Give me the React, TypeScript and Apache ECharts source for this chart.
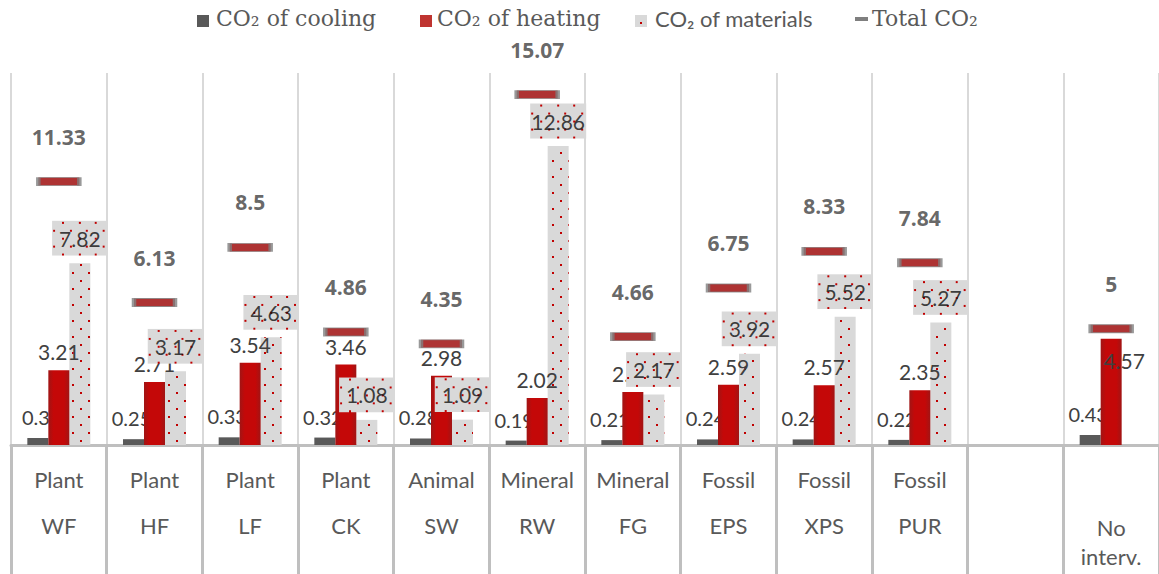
import React, { useEffect, useRef } from 'react';
import * as echarts from 'echarts';

// ---- data ----
const categories = ['WF', 'HF', 'LF', 'CK', 'SW', 'RW', 'FG', 'EPS', 'XPS', 'PUR', '', 'No interv.'];
const groups = ['Plant', 'Plant', 'Plant', 'Plant', 'Animal', 'Mineral', 'Mineral', 'Fossil', 'Fossil', 'Fossil', '', ''];
const cooling = [0.3, 0.25, 0.33, 0.32, 0.28, 0.19, 0.21, 0.24, 0.24, 0.22, null, 0.43];
const heating = [3.21, 2.71, 3.54, 3.46, 2.98, 2.02, 2.28, 2.59, 2.57, 2.35, null, 4.57];
const materials = [7.82, 3.17, 4.63, 1.08, 1.09, 12.86, 2.17, 3.92, 5.52, 5.27, null, null];
const total = [11.33, 6.13, 8.5, 4.86, 4.35, 15.07, 4.66, 6.75, 8.33, 7.84, null, 5];
const legendNames = ['CO₂ of cooling', 'CO₂ of heating', 'CO₂ of materials', 'Total CO₂'];

function makeDotsImage(): string {
  const c = document.createElement('canvas');
  c.width = 56;
  c.height = 35;
  const ctx = c.getContext('2d');
  if (!ctx) return '';
  ctx.fillStyle = '#d9d9d9';
  ctx.fillRect(0, 0, 56, 35);
  ctx.fillStyle = '#c00000';
  const rows = [1, 9, 17, 25, 33];
  rows.forEach((y, i) => {
    const x0 = i % 2 === 0 ? 10 : 1;
    for (let x = x0; x < 56; x += 16.7) ctx.fillRect(Math.round(x), y, 2, 2);
  });
  return c.toDataURL();
}

export default function App() {
  const ref = useRef<HTMLDivElement>(null);

  useEffect(() => {
    if (!ref.current) return;
    const chart = echarts.init(ref.current, null, { renderer: 'svg' });
    const dots = makeDotsImage();
    const numFont = 'Lato';

    const heatingData = heating.map((v, i) =>
      i === 11 ? { value: v, label: { position: 'insideTop', distance: 11, offset: [13, 0] } } : v
    );

    const option: any = {
      animation: false,
      grid: { left: 11, right: -2, top: 73, bottom: 129 },
      xAxis: {
        type: 'category',
        data: categories,
        boundaryGap: true,
        axisLine: { show: true, lineStyle: { color: '#bfbfbf', width: 3 } },
        axisTick: { show: true, interval: 0, length: 130, lineStyle: { color: '#bfbfbf', width: 3 } },
        splitLine: { show: true, interval: 0, lineStyle: { color: '#d9d9d9', width: 2 } },
        axisLabel: {
          interval: 0,
          margin: 11,
          formatter: (_v: string, i: number) => {
            if (i === 11) return '{e| }\n{c|No}\n{c|interv.}';
            if (!groups[i]) return '';
            return `{a|${groups[i]}}\n{a|${categories[i]}}`;
          },
          rich: {
            a: { fontFamily: numFont, fontSize: 22, lineHeight: 46, color: '#595959' },
            c: { fontFamily: numFont, fontSize: 22, lineHeight: 29, color: '#595959' },
            e: { fontSize: 10, lineHeight: 57 },
          },
        },
      },
      yAxis: { type: 'value', min: 0, max: 16, show: false },
      series: [
        {
          name: legendNames[0],
          type: 'bar',
          data: cooling,
          barWidth: 21,
          barGap: '0%',
          z: 2,
          silent: true,
          itemStyle: { color: '#595959' },
          label: { show: true, position: 'top', distance: 11, offset: [-2, 0], fontFamily: numFont, fontSize: 20, color: '#404040' },
        },
        {
          name: legendNames[1],
          type: 'bar',
          data: heatingData,
          barWidth: 21,
          barGap: '0%',
          z: 3,
          silent: true,
          itemStyle: {
            color: {
              type: 'linear', x: 0, y: 0, x2: 1, y2: 0,
              colorStops: [
                { offset: 0, color: '#a01515' },
                { offset: 0.25, color: '#c40808' },
                { offset: 0.75, color: '#c40808' },
                { offset: 1, color: '#a01515' },
              ],
            },
          },
          label: { show: true, position: 'top', distance: 8, fontFamily: numFont, fontSize: 21, color: '#404040' },
        },
        {
          name: legendNames[2],
          type: 'bar',
          data: materials,
          barWidth: 21,
          barGap: '0%',
          z: 2,
          silent: true,
          itemStyle: {
            color: '#d9d9d9',
            decal: {
              symbol: 'rect',
              symbolSize: 1,
              color: '#c00000',
              backgroundColor: 'transparent',
              dashArrayX: [[2, 14], [0, 8, 2, 6]],
              dashArrayY: [2, 6],
              rotation: 0,
            },
          },
          label: { show: false },
        },
        {
          name: 'materials labels',
          type: 'scatter',
          data: materials,
          symbol: 'rect',
          symbolSize: 1,
          z: 4,
          silent: true,
          itemStyle: { color: 'rgba(0,0,0,0)' },
          label: {
            show: true,
            position: 'top',
            distance: 7,
            offset: [21, 0],
            fontFamily: numFont,
            fontSize: 21,
            lineHeight: 21,
            color: '#111111',
            padding: [7, 7, 7, 7],
            backgroundColor: dots ? { image: dots } : '#d9d9d9',
          },
        },
        {
          name: legendNames[3],
          type: 'scatter',
          data: total,
          symbol: 'rect',
          symbolSize: [41, 8],
          z: 5,
          silent: true,
          itemStyle: { color: '#9a0000', borderColor: '#808080', borderWidth: 2 },
          label: {
            show: true,
            position: 'top',
            distance: 30,
            fontFamily: 'Open Sans',
            fontWeight: 'bold',
            fontSize: 21,
            color: '#404040',
          },
        },
      ],
      graphic: [
        { type: 'rect', shape: { x: 197, y: 15, width: 12, height: 12 }, style: { fill: '#595959' }, silent: true },
        { type: 'text', x: 216, y: 18, style: { text: legendNames[0], fontFamily: 'DejaVu Serif', fontSize: 22, fill: '#595959', verticalAlign: 'middle' }, silent: true },
        { type: 'rect', shape: { x: 420, y: 15, width: 12, height: 12 }, style: { fill: '#bf3430' }, silent: true },
        { type: 'text', x: 437, y: 18, style: { text: legendNames[1], fontFamily: 'DejaVu Serif', fontSize: 22, fill: '#595959', verticalAlign: 'middle' }, silent: true },
        { type: 'rect', shape: { x: 635, y: 15, width: 12, height: 12 }, style: { fill: '#d9d9d9' }, silent: true },
        { type: 'rect', shape: { x: 640, y: 22, width: 2, height: 2 }, style: { fill: '#c00000' }, silent: true },
        { type: 'text', x: 655, y: 18, style: { text: legendNames[2], fontFamily: 'Lato', fontSize: 22, fill: '#595959', verticalAlign: 'middle' }, silent: true },
        { type: 'rect', shape: { x: 855, y: 17, width: 13, height: 4 }, style: { fill: '#7f7f7f' }, silent: true },
        { type: 'text', x: 872, y: 18, style: { text: legendNames[3], fontFamily: 'DejaVu Serif', fontSize: 22, fill: '#595959', verticalAlign: 'middle' }, silent: true },
      ],
    };

    chart.setOption(option);
    return () => chart.dispose();
  }, []);

  return (
    <div
      ref={ref}
      style={{ position: 'fixed', left: 0, top: 0, width: 1159, height: 574, background: '#ffffff' }}
    />
  );
}
